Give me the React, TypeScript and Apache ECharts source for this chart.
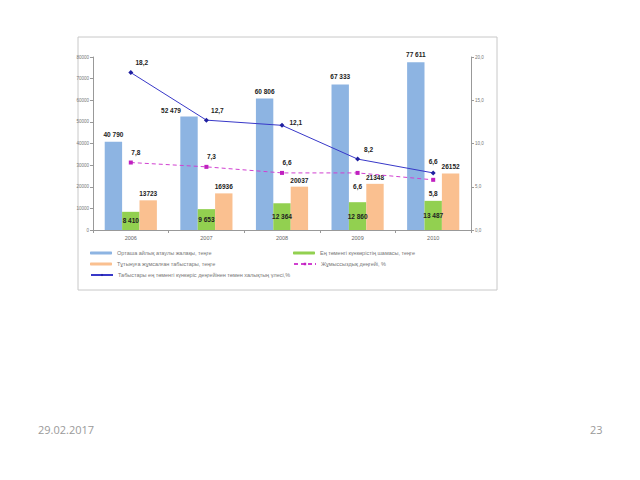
import React, { useEffect, useRef } from "react";
import * as echarts from "echarts";

const years = ["2006", "2007", "2008", "2009", "2010"];
const avgWage = [40790, 52479, 60806, 67333, 77611];
const subsistence = [8410, 9653, 12364, 12860, 13487];
const consumption = [13723, 16936, 20037, 21348, 26152];
const belowSubsistence = [18.2, 12.7, 12.1, 8.2, 6.6];
const unemployment = [7.8, 7.3, 6.6, 6.6, 5.8];

const names = {
  wage: "Орташа айлық атаулы жалақы, теңге",
  subs: "Ең төменгі күнкөрістің шамасы, теңге",
  cons: "Тұтынуға жұмсалған табыстары, теңге",
  unemp: "Жұмыссыздық деңгейі, %",
  below: "Табыстары ең төменгі күнкөріс деңгейінен төмен халықтың үлесі,%",
};

const spaced = (v: number) => String(v).replace(/\B(?=(\d{3})+(?!\d))/g, " ");
const comma = (v: number) => v.toFixed(1).replace(".", ",");

export default function App() {
  const ref = useRef<HTMLDivElement>(null);
  useEffect(() => {
    if (!ref.current) return;
    const chart = echarts.init(ref.current, undefined, { renderer: "svg" });
    const font = "Liberation Sans";
    const lblBold = { fontFamily: font, fontSize: 6.5, fontWeight: "bold" as const, color: "#222" };
    const legendText = { fontFamily: font, fontSize: 5.5, color: "#777" };
    const legendBase = {
      orient: "horizontal" as const,
      itemWidth: 22,
      itemHeight: 3,
      itemGap: 4,
      textStyle: legendText,
      padding: 0,
    };
    const belowPos = ["top", "top", "right", "top", "top"];
    const unempPos = ["top", "top", "top", "bottom", "bottom"];
    chart.setOption({
      animation: false,
      backgroundColor: "#fff",
      textStyle: { fontFamily: font },
      grid: { left: 93, right: 169, top: 57, bottom: 250, containLabel: false },
      xAxis: {
        type: "category",
        data: years,
        axisLine: { lineStyle: { color: "#999", width: 1 } },
        axisTick: { show: true, length: 3, lineStyle: { color: "#999" } },
        axisLabel: { fontSize: 5.5, color: "#666", margin: 5 },
      },
      yAxis: [
        {
          type: "value",
          min: 0,
          max: 80000,
          interval: 10000,
          splitLine: { show: false },
          axisLine: { show: true, lineStyle: { color: "#999" } },
          axisTick: { show: true, length: 3, lineStyle: { color: "#999" } },
          axisLabel: { fontSize: 4.5, color: "#777", margin: 4, formatter: (v: number) => String(v) },
        },
        {
          type: "value",
          min: 0,
          max: 20,
          interval: 5,
          splitLine: { show: false },
          axisLine: { show: true, lineStyle: { color: "#999" } },
          axisTick: { show: true, length: 3, lineStyle: { color: "#999" } },
          axisLabel: { fontSize: 4.5, color: "#777", margin: 4, formatter: (v: number) => comma(v) },
        },
      ],
      legend: [
        { ...legendBase, left: 90, top: 250, data: [names.wage] },
        { ...legendBase, left: 90, top: 261, data: [names.cons] },
        { ...legendBase, left: 90, top: 272, data: [names.below] },
        { ...legendBase, left: 293, top: 250, data: [names.subs] },
        { ...legendBase, left: 293, top: 261, data: [names.unemp] },
      ],
      series: [
        {
          name: names.wage,
          type: "bar",
          data: avgWage.map((v, i) => ({
            value: v,
            label: i === 1 ? { offset: [-18, 1] } : undefined,
          })),
          barGap: "0%",
          barCategoryGap: "31%",
          itemStyle: { color: "#8db4e2" },
          label: { show: true, position: "top", distance: 4, ...lblBold, formatter: (p: any) => spaced(p.value) },
        },
        {
          name: names.subs,
          type: "bar",
          data: subsistence,
          itemStyle: { color: "#92d050" },
          label: { show: true, position: "inside", ...lblBold, formatter: (p: any) => spaced(p.value) },
        },
        {
          name: names.cons,
          type: "bar",
          data: consumption,
          itemStyle: { color: "#fac090" },
          label: { show: true, position: "top", distance: 3, ...lblBold, formatter: (p: any) => String(p.value) },
        },
        {
          name: names.below,
          type: "line",
          yAxisIndex: 1,
          symbol: "diamond",
          symbolSize: 5,
          lineStyle: { color: "#3838c8", width: 1 },
          itemStyle: { color: "#2020a0" },
          data: belowSubsistence.map((v, i) => ({
            value: v,
            label: {
              show: true,
              position: belowPos[i],
              offset: belowPos[i] === "top" ? (i === 4 ? [0, 0] : [11, 1]) : [0, -3],
              ...lblBold,
              formatter: (p: any) => comma(p.value),
            },
          })),
        },
        {
          name: names.unemp,
          type: "line",
          yAxisIndex: 1,
          symbol: "rect",
          symbolSize: 4,
          lineStyle: { color: "#d040d0", width: 1, type: [4, 3] },
          itemStyle: { color: "#c020c0" },
          data: unemployment.map((v, i) => ({
            value: v,
            label: {
              show: true,
              position: unempPos[i],
              offset: unempPos[i] === "top" ? [5, 0] : [0, 3],
              ...lblBold,
              formatter: (p: any) => comma(p.value),
            },
          })),
        },
      ],
      graphic: [
        {
          type: "rect",
          shape: { x: 78, y: 37, width: 419, height: 253 },
          style: { fill: "none", stroke: "#c8c8c8", lineWidth: 1 },
          silent: true,
        },
        {
          type: "text",
          x: 38,
          y: 424,
          style: { text: "29.02.2017", fontSize: 11, fill: "#9a9a9a", fontFamily: "Open Sans" },
        },
        {
          type: "text",
          x: 590,
          y: 424,
          style: { text: "23", fontSize: 11, fill: "#9a9a9a", fontFamily: "Open Sans" },
        },
      ],
    });
    return () => chart.dispose();
  }, []);
  return (
    <div
      ref={ref}
      style={{ position: "fixed", left: 0, top: 0, width: 640, height: 480, background: "#fff" }}
    />
  );
}
